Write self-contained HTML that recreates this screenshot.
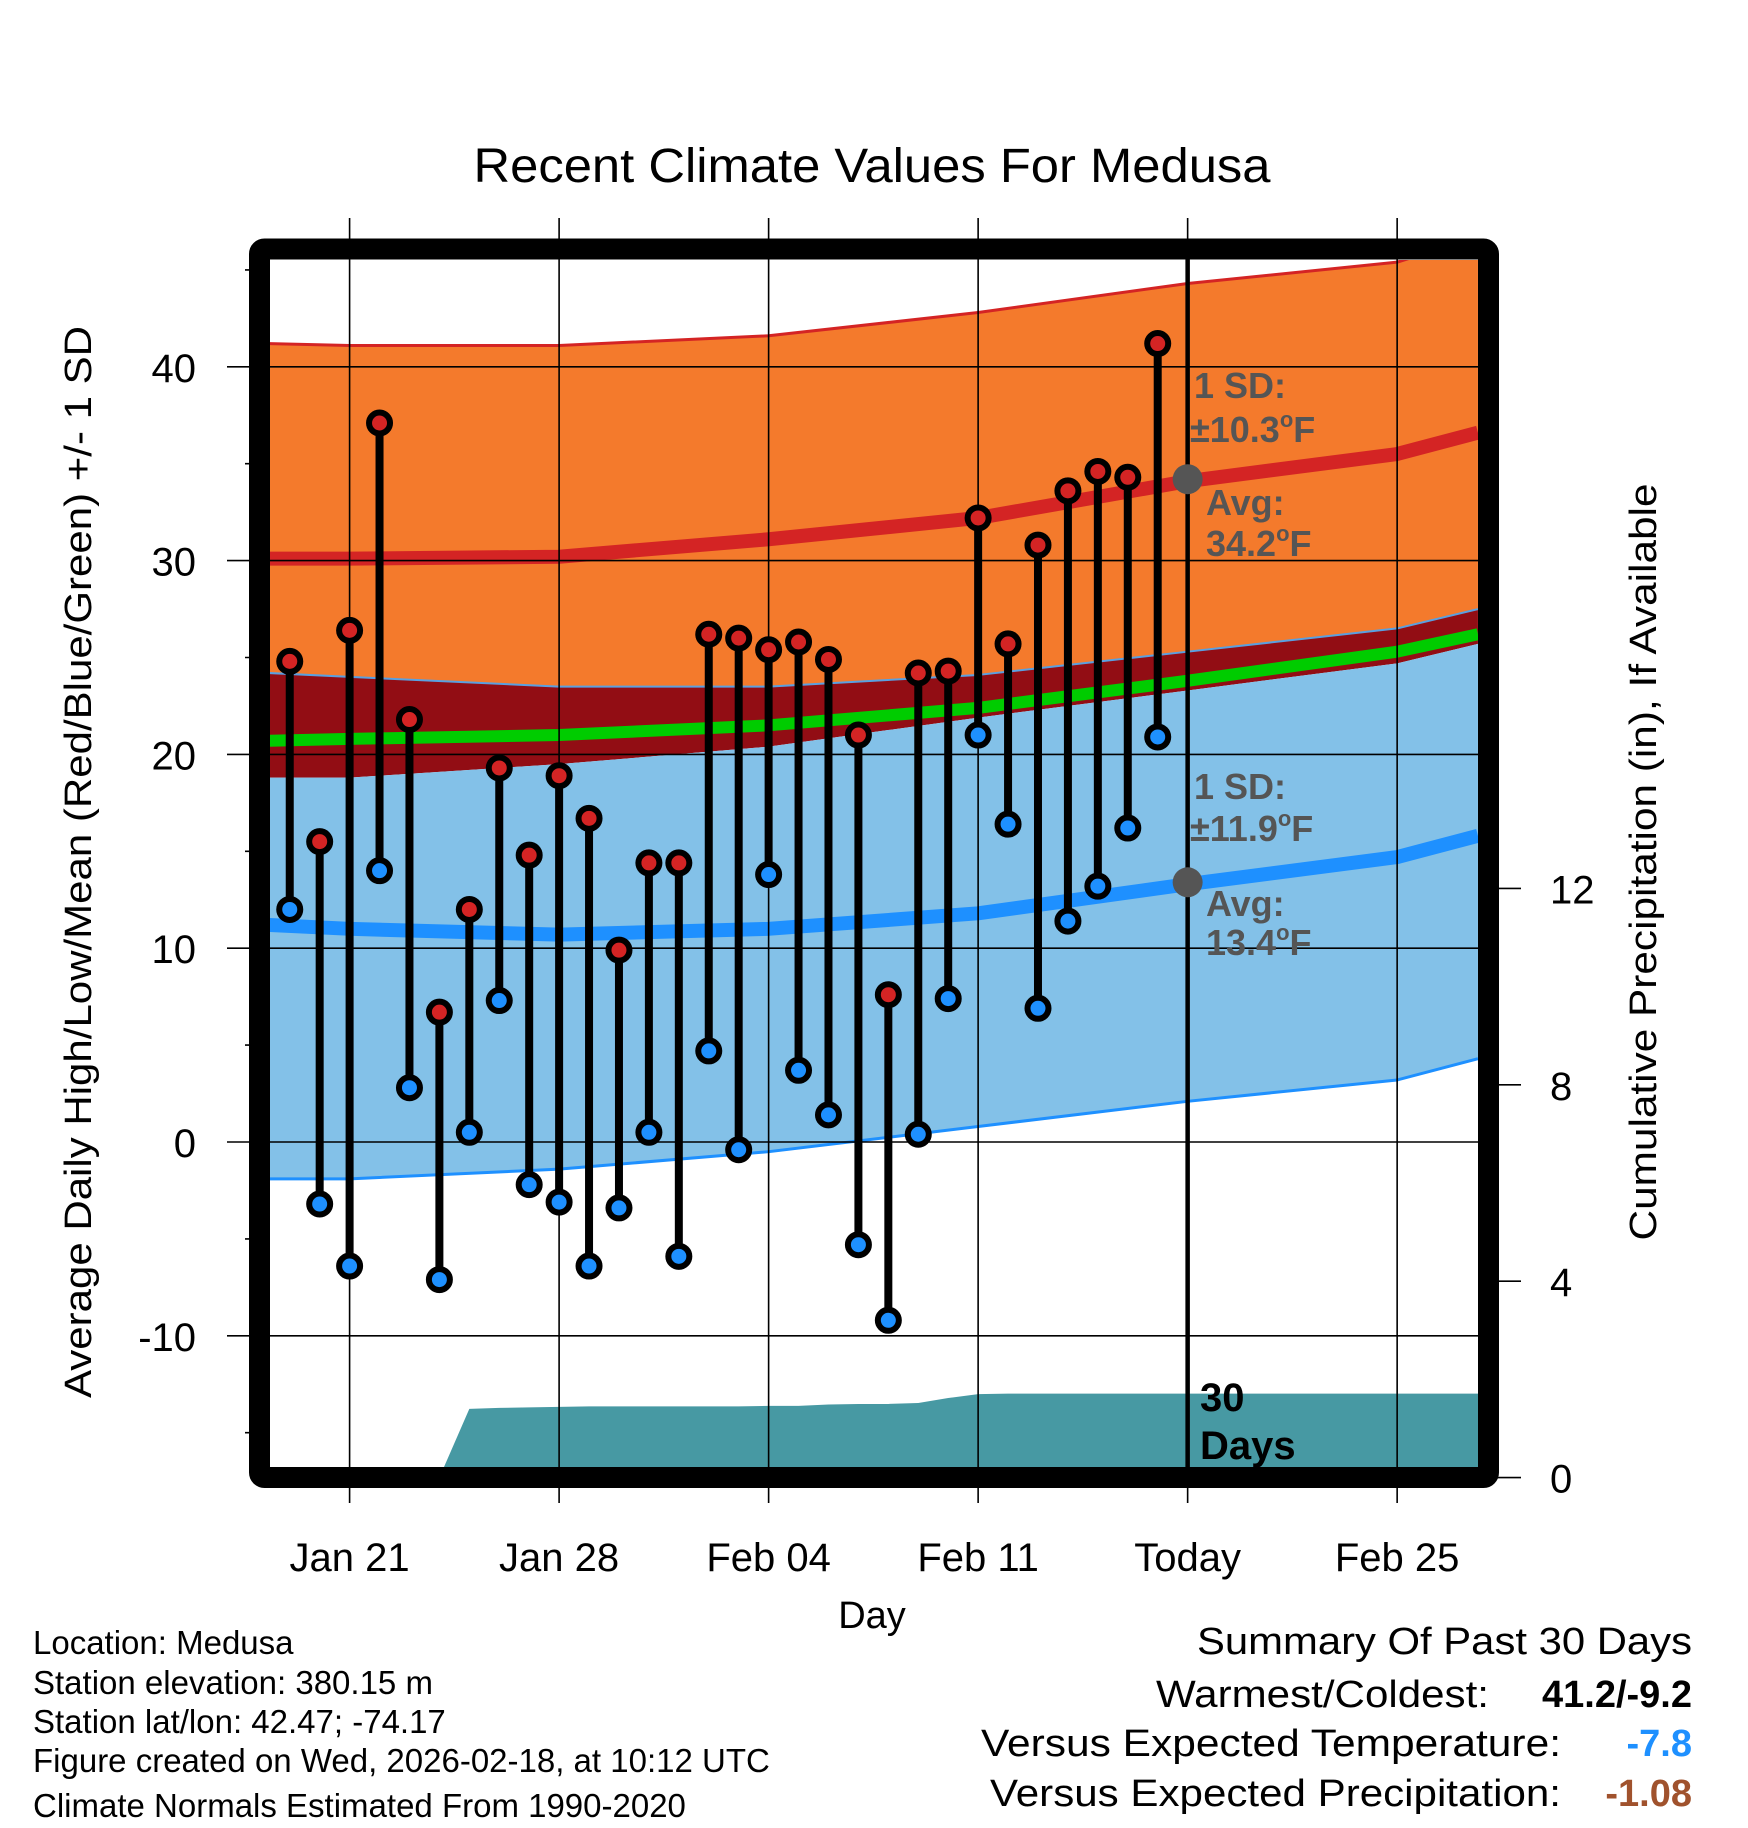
<!DOCTYPE html>
<html><head><meta charset="utf-8"><style>
html,body{margin:0;padding:0;background:#fff;}
svg{display:block;font-family:"Liberation Sans",Arial,sans-serif;}
</style></head><body>
<svg id="chart" width="1748" height="1828" viewBox="0 0 1748 1828" xmlns="http://www.w3.org/2000/svg">
<defs><clipPath id="plotclip"><rect x="270" y="260" width="1208" height="1207"/></clipPath></defs>
<text x="872" y="182" font-size="48" text-anchor="middle" textLength="797" lengthAdjust="spacingAndGlyphs">Recent Climate Values For Medusa</text>
<g id="fills" clip-path="url(#plotclip)"></g>
<g id="grid"></g>
<g id="marks"></g>
<rect x="259.5" y="249" width="1229" height="1228.5" rx="5" fill="none" stroke="#000" stroke-width="21"/>
<g id="labels"></g>
<g fill="#555" font-weight="bold" font-size="36">
<text x="1194" y="398">1 SD:</text>
<text x="1190" y="442">±10.3<tspan font-size="22" dy="-15">o</tspan><tspan dy="15">F</tspan></text>
<text x="1206" y="515">Avg:</text>
<text x="1206" y="556">34.2<tspan font-size="22" dy="-15">o</tspan><tspan dy="15">F</tspan></text>
</g>
<g fill="#555" font-weight="bold" font-size="36">
<text x="1194" y="799">1 SD:</text>
<text x="1190" y="841">±11.9<tspan font-size="22" dy="-15">o</tspan><tspan dy="15">F</tspan></text>
<text x="1206" y="916">Avg:</text>
<text x="1206" y="955">13.4<tspan font-size="22" dy="-15">o</tspan><tspan dy="15">F</tspan></text>
</g>
<g fill="#000" font-weight="bold" font-size="40">
<text x="1200" y="1411">30</text><text x="1200" y="1459">Days</text>
</g>
<text x="872" y="1628" font-size="38" text-anchor="middle">Day</text>
<text transform="translate(91,862) rotate(-90)" font-size="38" text-anchor="middle" textLength="1072" lengthAdjust="spacingAndGlyphs">Average Daily High/Low/Mean (Red/Blue/Green) +/- 1 SD</text>
<text transform="translate(1656,862) rotate(-90)" font-size="38" text-anchor="middle" textLength="757" lengthAdjust="spacingAndGlyphs">Cumulative Precipitation (in), If Available</text>
<g font-size="33">
<text x="33" y="1654">Location: Medusa</text>
<text x="33" y="1694">Station elevation: 380.15 m</text>
<text x="33" y="1733">Station lat/lon: 42.47; -74.17</text>
<text x="33" y="1772">Figure created on Wed, 2026-02-18, at 10:12 UTC</text>
<text x="33" y="1817">Climate Normals Estimated From 1990-2020</text>
</g>
<g font-size="38">
<text x="1692" y="1654" text-anchor="end" textLength="495" lengthAdjust="spacingAndGlyphs">Summary Of Past 30 Days</text>
<text x="1489" y="1707" text-anchor="end" textLength="333" lengthAdjust="spacingAndGlyphs">Warmest/Coldest:</text>
<text x="1692" y="1707" text-anchor="end" font-weight="bold">41.2/-9.2</text>
<text x="1561" y="1756" text-anchor="end" textLength="580" lengthAdjust="spacingAndGlyphs">Versus Expected Temperature:</text>
<text x="1692" y="1756" text-anchor="end" font-weight="bold" fill="#1e90ff">-7.8</text>
<text x="1561" y="1806" text-anchor="end" textLength="571" lengthAdjust="spacingAndGlyphs">Versus Expected Precipitation:</text>
<text x="1692" y="1806" text-anchor="end" font-weight="bold" fill="#a0522d">-1.08</text>
</g>
</svg>
<script>
const obsDays = [-2,-1,0,1,2,3,4,5,6,7,8,9,10,11,12,13,14,15,16,17,18,19,20,21,22,23,24,25,26,27];
const highs = [24.8,15.5,26.4,37.1,21.8,6.7,12.0,19.3,14.8,18.9,16.7,9.9,14.4,14.4,26.2,26.0,25.4,25.8,24.9,21.0,7.6,24.2,24.3,32.2,25.7,30.8,33.6,34.6,34.3,41.2];
const lows = [12.0,-3.2,-6.4,14.0,2.8,-7.1,0.5,7.3,-2.2,-3.1,-6.4,-3.4,0.5,-5.9,4.7,-0.4,13.8,3.7,1.4,-5.3,-9.2,0.4,7.4,21.0,16.4,6.9,11.4,13.2,16.2,20.9];
const precip = [0,0,0,0,0,0,1.40,1.42,1.43,1.44,1.45,1.45,1.45,1.45,1.45,1.45,1.46,1.46,1.49,1.50,1.50,1.52,1.62,1.70,1.71,1.71,1.71,1.71,1.71,1.71];
const normDays = [-2.7,0,7,14,21,28,35,37.7];
const hiUp = [41.2,41.1,41.1,41.6,42.8,44.3,45.4,46.7];
const hiAvg = [30.1,30.1,30.2,31.1,32.2,34.1,35.5,36.6];
const hiDn = [24.2,24.0,23.5,23.5,24.1,25.3,26.5,27.5];
const meanAvg = [20.7,20.8,21.0,21.5,22.4,23.8,25.3,26.2];
const loUp = [18.8,18.8,19.5,20.4,21.9,23.3,24.7,25.7];
const loAvg = [11.2,11.0,10.7,11.0,11.8,13.3,14.7,15.8];
const loDn = [-1.9,-1.9,-1.4,-0.5,0.8,2.1,3.2,4.3];
const yTicks = [40,30,20,10,0,-10];
const yMinor = [45,35,25,15,5,-5,-15];
const pTicks = [0,4,8,12];
const xTickDays = [0,7,14,21,28,35];
const xTickLabels = ["Jan 21","Jan 28","Feb 04","Feb 11","Today","Feb 25"];
const todayDay = 28;

const NS="http://www.w3.org/2000/svg";
const X = d => 349.6 + d*29.93;
const Y = v => 1142 - v*19.38;
const P = p => 1477.6 - p*49.1;
function mk(tag, attrs, parent){const e=document.createElementNS(NS,tag);for(const k in attrs)e.setAttribute(k,attrs[k]);parent.appendChild(e);return e;}
const fills=document.getElementById('fills'), grid=document.getElementById('grid'), marks=document.getElementById('marks'), labels=document.getElementById('labels');
const pts = arr => normDays.map((d,i)=>X(d)+','+Y(arr[i]));
function band(top,bot,color,name){
  const p = pts(top).concat(pts(bot).reverse());
  const e = mk('polygon',{points:p.join(' '),fill:color},fills);
  
  
}
function line(arr,color,w,name){
  const e = mk('polyline',{points:pts(arr).join(' '),fill:'none',stroke:color,'stroke-width':w,'stroke-linejoin':'round'},fills);
  
  
}
band(hiUp,hiDn,'#f47a2c','high-sd-band');
band(hiDn,loUp,'#920d14','overlap-band');
band(loUp,loDn,'#83c1e8','low-sd-band');
line(hiUp,'#d42424',3,'high-upper-line');
line(loDn,'#1e90ff',3,'low-lower-line');
line(hiDn,'#5aa0e0',2,'high-lower-line');
line(meanAvg,'#00cc00',12,'mean-line');
line(hiAvg,'#d42424',14,'high-avg-line');
line(loAvg,'#1e90ff',14,'low-avg-line');
{
  let p = obsDays.map((d,i)=>X(d)+','+P(precip[i]));
  p.push(X(38)+','+P(precip[precip.length-1]));
  p.push(X(38)+','+P(0)); p.push(X(-3)+','+P(0));
  const e = mk('polygon',{points:p.join(' '),fill:'#4799a3'},fills);
  
  
}
yTicks.forEach(v=>{
  const e=mk('line',{x1:227,x2:1478,y1:Y(v),y2:Y(v),stroke:'#000','stroke-width':1.6},grid);
  
  
  const t=mk('text',{x:196,y:Y(v)+15,'font-size':40,'text-anchor':'end'},labels);
  t.textContent=v;
  
  
});
yMinor.forEach(v=>{
  const e=mk('line',{x1:245,x2:262,y1:Y(v),y2:Y(v),stroke:'#000','stroke-width':1.6},grid);
  
  
});
xTickDays.forEach((d,i)=>{
  const e=mk('line',{x1:X(d),x2:X(d),y1:218,y2:1503,stroke:'#000','stroke-width':1.6},grid);
  
  
  const t=mk('text',{x:X(d),y:1571,'font-size':40,'text-anchor':'middle'},labels);
  t.textContent=xTickLabels[i];
  
  
});
pTicks.forEach(p=>{
  const e=mk('line',{x1:1488,x2:1521,y1:P(p),y2:P(p),stroke:'#000','stroke-width':1.6},grid);
  
  
  const t=mk('text',{x:1550,y:P(p)+15,'font-size':40},labels);
  t.textContent=p;
  
  
});
{
  const e=mk('line',{x1:X(todayDay),x2:X(todayDay),y1:249,y2:1478,stroke:'#000','stroke-width':4.5},grid);
  
  
  const a=mk('circle',{cx:X(todayDay),cy:Y(34.2),r:15,fill:'#555'},grid);
  
  
  const b=mk('circle',{cx:X(todayDay),cy:Y(13.4),r:15,fill:'#555'},grid);
  
  
}
obsDays.forEach((d,i)=>{
  const s=mk('line',{x1:X(d),x2:X(d),y1:Y(highs[i]),y2:Y(lows[i]),stroke:'#000','stroke-width':8},marks);
  
  
});
obsDays.forEach((d,i)=>{
  const h=mk('circle',{cx:X(d),cy:Y(highs[i]),r:10.5,fill:'#d42424',stroke:'#000','stroke-width':6},marks);
  
  
  const l=mk('circle',{cx:X(d),cy:Y(lows[i]),r:10.5,fill:'#1e90ff',stroke:'#000','stroke-width':6},marks);
  
  
});
</script>
</body></html>
